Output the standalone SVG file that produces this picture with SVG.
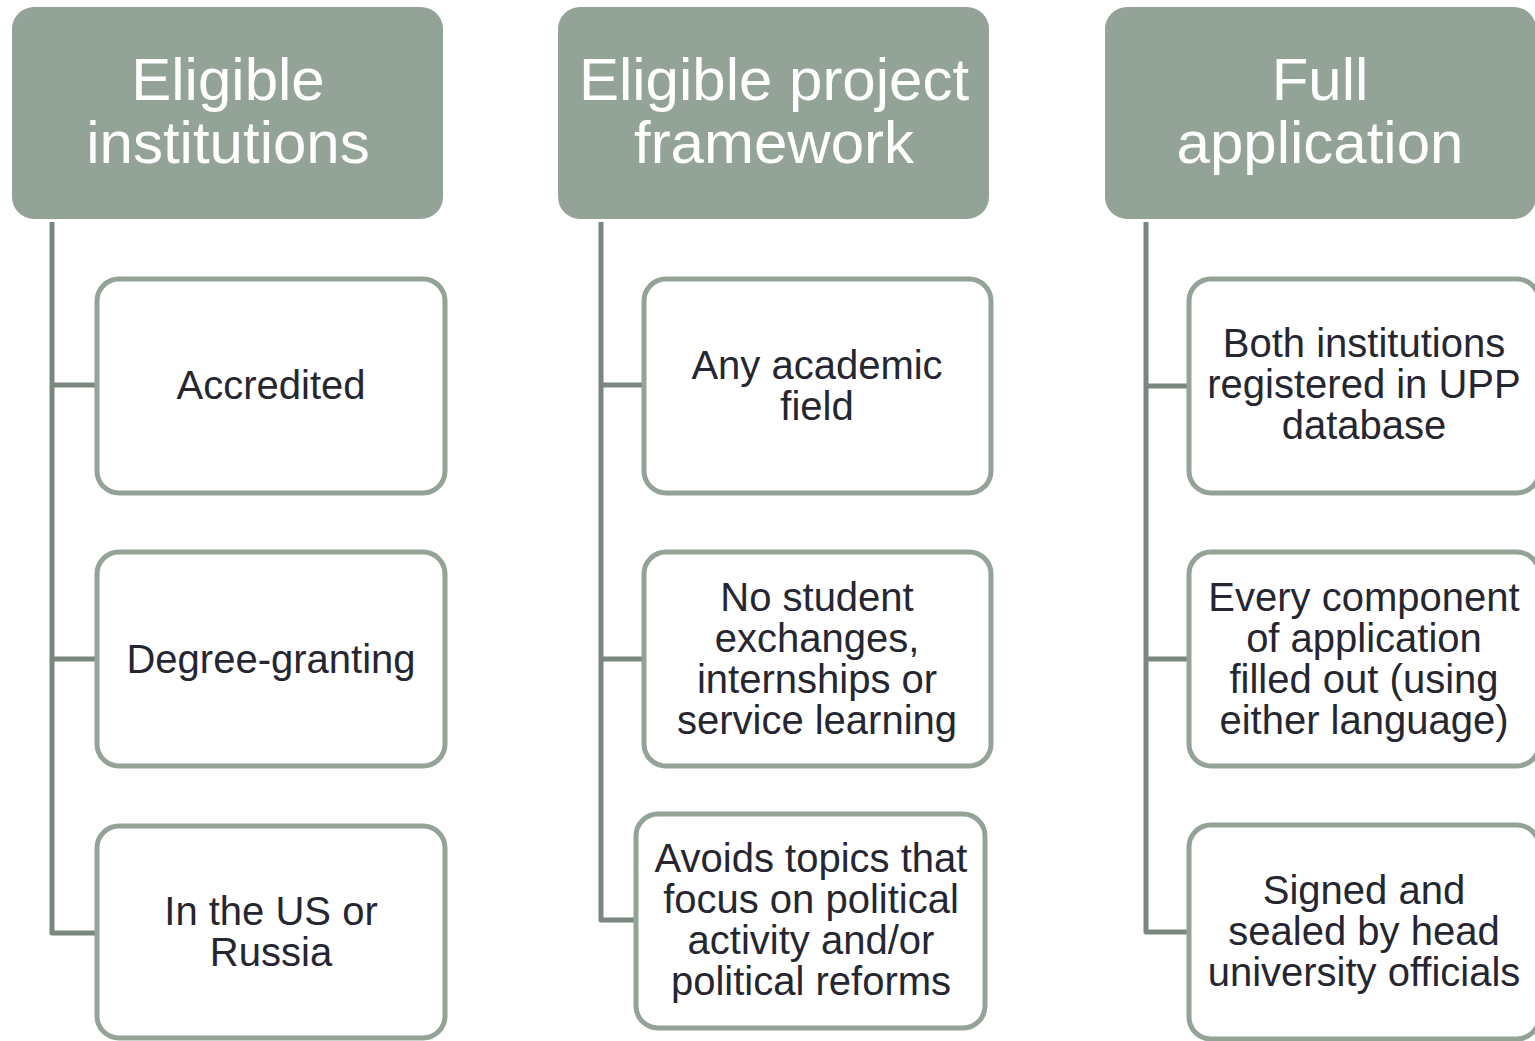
<svg xmlns="http://www.w3.org/2000/svg" width="1535" height="1041" viewBox="0 0 1535 1041">
<style>
.hdr{fill:#93A398;}
.ht{fill:#ffffff;font-family:"Liberation Sans",Arial,sans-serif;font-size:60px;text-anchor:middle;}
.box{fill:#ffffff;stroke:#93A398;stroke-width:5;}
.bt{fill:#262631;font-family:"Liberation Sans",Arial,sans-serif;font-size:40px;text-anchor:middle;}
.con{fill:none;stroke:#7A877E;stroke-width:5;stroke-linejoin:round;}
</style>
<rect width="1535" height="1041" fill="#ffffff"/>
<g id="connectors">
<path class="con" d="M52,222 V933 H97 M52,385 H97 M52,659 H97"/>
<path class="con" d="M601,222 V920 H636 M601,385 H644 M601,659 H644"/>
<path class="con" d="M1146,222 V932 H1189 M1146,386 H1189 M1146,659 H1189"/>
</g>
<g id="h1"><rect class="hdr" x="12" y="7" width="431" height="212" rx="22"/><text class="ht" x="228" y="100">Eligible</text><text class="ht" x="228" y="163">institutions</text></g>
<g id="h2"><rect class="hdr" x="558" y="7" width="431" height="212" rx="22"/><text class="ht" x="774" y="100">Eligible project</text><text class="ht" x="774" y="163">framework</text></g>
<g id="h3"><rect class="hdr" x="1105" y="7" width="431" height="212" rx="22"/><text class="ht" x="1320" y="100">Full</text><text class="ht" x="1320" y="163">application</text></g>
<g id="c1a"><rect class="box" x="97" y="279" width="348" height="214" rx="22"/><text class="bt" x="271" y="399">Accredited</text></g>
<g id="c1b"><rect class="box" x="97" y="552" width="348" height="214" rx="22"/><text class="bt" x="271" y="673">Degree-granting</text></g>
<g id="c1c"><rect class="box" x="97" y="826" width="348" height="212" rx="22"/><text class="bt" x="271" y="925">In the US or</text><text class="bt" x="271" y="966">Russia</text></g>
<g id="c2a"><rect class="box" x="644" y="279" width="347" height="214" rx="22"/><text class="bt" x="817" y="379">Any academic</text><text class="bt" x="817" y="420">field</text></g>
<g id="c2b"><rect class="box" x="644" y="552" width="347" height="214" rx="22"/><text class="bt" x="817" y="611">No student</text><text class="bt" x="817" y="652">exchanges,</text><text class="bt" x="817" y="693">internships or</text><text class="bt" x="817" y="734">service learning</text></g>
<g id="c2c"><rect class="box" x="636" y="814" width="349" height="214" rx="22"/><text class="bt" x="811" y="872">Avoids topics that</text><text class="bt" x="811" y="913">focus on political</text><text class="bt" x="811" y="954">activity and/or</text><text class="bt" x="811" y="995">political reforms</text></g>
<g id="c3a"><rect class="box" x="1189" y="279" width="350" height="214" rx="22"/><text class="bt" x="1364" y="357">Both institutions</text><text class="bt" x="1364" y="398">registered in UPP</text><text class="bt" x="1364" y="439">database</text></g>
<g id="c3b"><rect class="box" x="1189" y="552" width="350" height="214" rx="22"/><text class="bt" x="1364" y="611">Every component</text><text class="bt" x="1364" y="652">of application</text><text class="bt" x="1364" y="693">filled out (using</text><text class="bt" x="1364" y="734">either language)</text></g>
<g id="c3c"><rect class="box" x="1189" y="825" width="350" height="214" rx="22"/><text class="bt" x="1364" y="904">Signed and</text><text class="bt" x="1364" y="945">sealed by head</text><text class="bt" x="1364" y="986">university officials</text></g>
</svg>
